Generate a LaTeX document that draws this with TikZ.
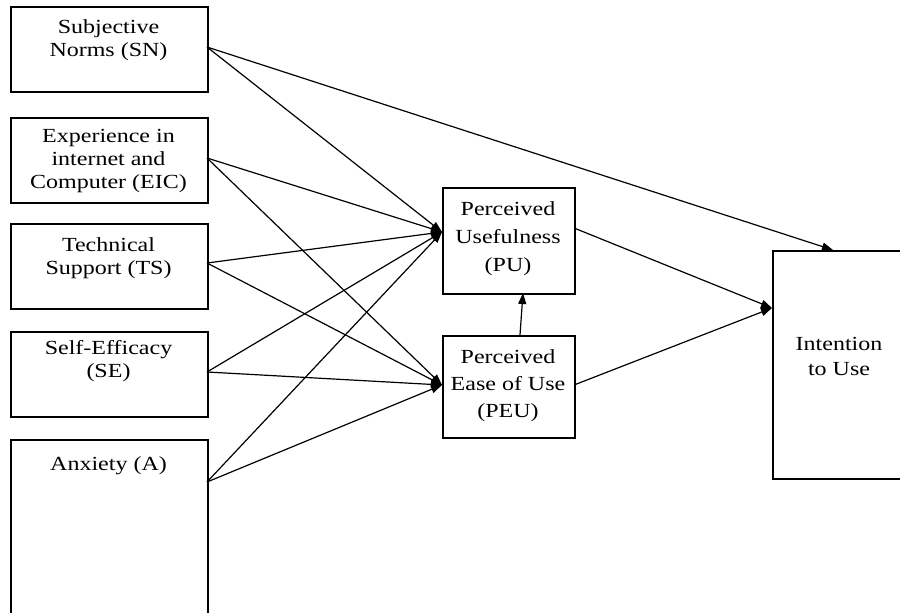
\documentclass[tikz,border=0pt]{standalone}
\usepackage{fontspec}
\setmainfont{Liberation Serif}[FakeStretch=1.2]
\usetikzlibrary{arrows.meta}
\begin{document}
\begin{tikzpicture}[x=1pt,y=-1pt,
  box/.style={draw, line width=1.7pt, inner sep=0pt, anchor=north west},
  lbl/.style={align=center, inner sep=0pt, font=\fontsize{20}{23}\selectfont},
  conn/.style={line width=1.2pt, -{Triangle[length=11pt,width=8pt]}}]
\useasboundingbox (0,0) rectangle (900,613);
% boxes
\node[box, minimum width=197pt, minimum height=85pt] (sn) at (10,6) {};
\node[box, minimum width=197pt, minimum height=85pt] (eic) at (10,117) {};
\node[box, minimum width=197pt, minimum height=85pt] (ts) at (10,223) {};
\node[box, minimum width=197pt, minimum height=85pt] (se) at (10,331) {};
\node[box, minimum width=197pt, minimum height=190pt] (an) at (10,439) {};
\node[box, minimum width=132pt, minimum height=106pt] (pu) at (442,187) {};
\node[box, minimum width=132pt, minimum height=102pt] (peu) at (442,335) {};
\node[box, minimum width=134pt, minimum height=228pt] (iu) at (772,250) {};
% labels
\node[lbl] (snT) at (108.5,40) {Subjective\\Norms (SN)};
\node[lbl] (eicT) at (108.5,161) {Experience in\\internet and\\Computer (EIC)};
\node[lbl] (tsT) at (108.5,258) {Technical\\Support (TS)};
\node[lbl] (seT) at (108.5,361) {Self-Efficacy\\(SE)};
\node[lbl] (anT) at (108.5,466) {Anxiety (A)};
\node[lbl, font=\fontsize{20}{28}\selectfont] (puT) at (508,239) {Perceived\\Usefulness\\(PU)};
\node[lbl, font=\fontsize{20}{27}\selectfont] (peuT) at (508,386) {Perceived\\Ease of Use\\(PEU)};
\node[lbl, font=\fontsize{20}{25}\selectfont] (iuT) at (839,356) {Intention\\to Use};
% connector ends
\coordinate (puIn) at (442,232);
\coordinate (peuIn) at (442,385);
\coordinate (iuIn) at (772,308);
\coordinate (iuTop) at (833,250);
\coordinate (snOut) at (207,47);
\coordinate (eicOut) at (207,158);
\coordinate (tsOut) at (207,263);
\coordinate (seOut) at (207,372);
\coordinate (anOut) at (207,482);
\coordinate (puOut) at (574,228);
\coordinate (peuOut) at (574,385);
\coordinate (peuUp) at (520,335);
\coordinate (puDown) at (523,293);
% connectors
\draw[conn] (snOut) -- (puIn);
\draw[conn] (snOut) -- (iuTop);
\draw[conn] (eicOut) -- (puIn);
\draw[conn] (eicOut) -- (peuIn);
\draw[conn] (tsOut) -- (puIn);
\draw[conn] (tsOut) -- (peuIn);
\draw[conn] (seOut) -- (puIn);
\draw[conn] (seOut) -- (peuIn);
\draw[conn] (anOut) -- (puIn);
\draw[conn] (anOut) -- (peuIn);
\draw[conn] (puOut) -- (iuIn);
\draw[conn] (peuOut) -- (iuIn);
\draw[conn] (peuUp) -- (puDown);
\end{tikzpicture}
\end{document}
